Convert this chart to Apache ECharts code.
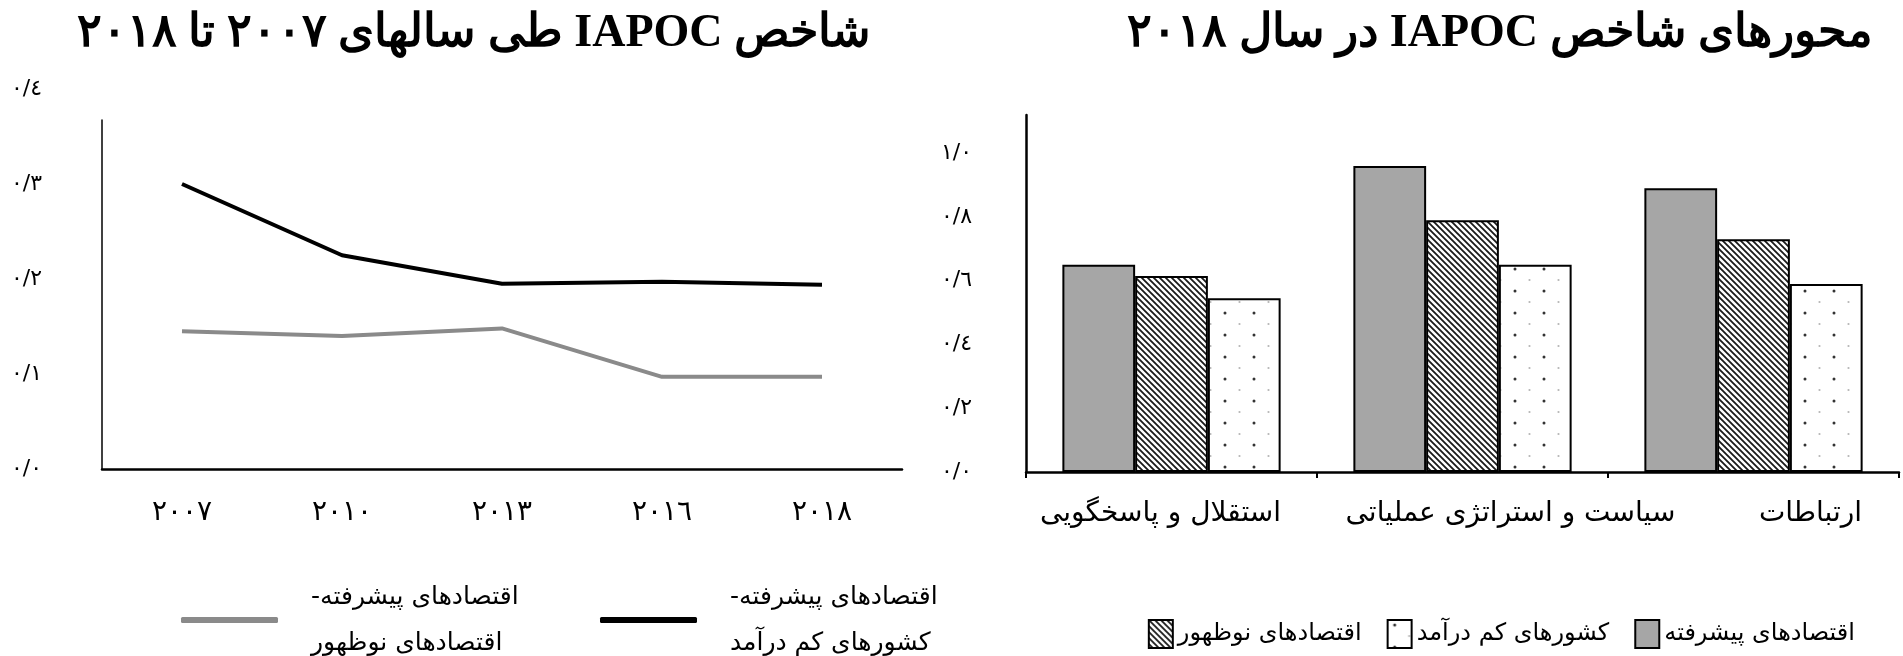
<!DOCTYPE html>
<html dir="rtl">
<head>
<meta charset="utf-8">
<script src="https://cdn.jsdelivr.net/npm/echarts@6/dist/echarts.min.js"></script>
<style>
html,body{margin:0;padding:0;background:#fff;}
#chart{width:1903px;height:656px;direction:rtl;}
</style>
</head>
<body>
<div id="chart"></div>
<script>
// ---- data ----
const years = ['٢٠٠٧', '٢٠١٠', '٢٠١٣', '٢٠١٦', '٢٠١٨'];
const advVsLowIncome = [0.300, 0.225, 0.195, 0.197, 0.194];
const advVsEmerging = [0.145, 0.140, 0.148, 0.097, 0.097];
const leftTickLabels = ['٠/٠', '٠/١', '٠/٢', '٠/٣', '٠/٤'];

const pillars = ['استقلال و پاسخگویی', 'سیاست و استراتژی عملیاتی', 'ارتباطات'];
const advanced = [0.650, 0.960, 0.890];
const emerging = [0.615, 0.790, 0.730];
const lowIncome = [0.545, 0.650, 0.590];
const rightTickLabels = ['٠/٠', '٠/٢', '٠/٤', '٠/٦', '٠/٨', '١/٠'];

const titleLeft = 'شاخص IAPOC طی سالهای ٢٠٠٧ تا ٢٠١٨';
const titleRight = 'محورهای شاخص IAPOC در سال ٢٠١٨';
const nameLowIncomeLine = 'اقتصادهای پیشرفته- کشورهای کم درآمد';
const nameEmergingLine = 'اقتصادهای پیشرفته- اقتصادهای نوظهور';
const nameAdvanced = 'اقتصادهای پیشرفته';
const nameEmerging = 'اقتصادهای نوظهور';
const nameLowIncome = 'کشورهای کم درآمد';

// label placement tweaks (styling only, px)
const pillarLabelShift = [-11, 48, 57];

// ---- patterns ----
function hatchPattern() {
  const c = document.createElement('canvas');
  c.width = 6; c.height = 6;
  const g = c.getContext('2d');
  g.fillStyle = '#fff'; g.fillRect(0, 0, 6, 6);
  g.strokeStyle = '#1a1a1a'; g.lineWidth = 1.8;
  g.beginPath();
  g.moveTo(-1, -1); g.lineTo(7, 7);
  g.moveTo(-1, 5); g.lineTo(1, 7);
  g.moveTo(5, -1); g.lineTo(7, 1);
  g.stroke();
  return { image: c, repeat: 'repeat' };
}
function dotPattern() {
  const c = document.createElement('canvas');
  c.width = 29; c.height = 22;
  const g = c.getContext('2d');
  g.fillStyle = '#fff'; g.fillRect(0, 0, 29, 22);
  g.fillStyle = '#333';
  g.beginPath(); g.arc(7, 5, 1.5, 0, Math.PI * 2); g.fill();
  g.fillStyle = '#b5b5b5';
  g.beginPath(); g.arc(21.5, 16, 1.1, 0, Math.PI * 2); g.fill();
  return { image: c, repeat: 'repeat' };
}

const FONT = 'DejaVu Sans';
const pillarData = pillars.map((p, i) => {
  const s = pillarLabelShift[i];
  return { value: p, textStyle: { padding: s >= 0 ? [0, 0, 0, 2 * s] : [0, -2 * s, 0, 0] } };
});

const chart = echarts.init(document.getElementById('chart'), null, { renderer: 'canvas' });

const titleStyle = { fontFamily: 'Liberation Serif', fontWeight: 'bold', fontSize: 46, color: '#000' };
const lineLegend = {
  orient: 'horizontal', icon: 'roundRect', itemWidth: 97, itemHeight: 6,
  formatter: n => n.replace('- ', '-\n'),
  textStyle: { fontFamily: FONT, fontSize: 25, color: '#000', lineHeight: 46, padding: [0, 0, 0, 28] }
};

chart.setOption({
  animation: false,
  backgroundColor: '#fff',
  title: [
    { text: titleLeft, left: 866, top: 6, textAlign: 'right', textStyle: titleStyle },
    { text: titleRight, left: 1868, top: 6, textAlign: 'right', textStyle: titleStyle }
  ],
  legend: [
    Object.assign({ data: [nameEmergingLine], left: 176, top: 569 }, lineLegend),
    Object.assign({ data: [nameLowIncomeLine], left: 595, top: 569 }, lineLegend),
    { data: [nameEmerging, nameLowIncome, nameAdvanced], right: 43, top: 614,
      icon: 'rect', itemWidth: 24, itemHeight: 28, itemGap: 25,
      textStyle: { fontFamily: FONT, fontSize: 24, color: '#000' } }
  ],
  grid: [
    { left: 102, width: 800, top: 89, bottom: 187 },
    { left: 1026, right: 4, top: 115, bottom: 184 },
    { left: 102, width: 800, top: 120, bottom: 187 }
  ],
  xAxis: [
    { gridIndex: 0, type: 'category', data: years, boundaryGap: true,
      axisLine: { lineStyle: { color: '#000', width: 2.5 } },
      axisTick: { show: false },
      axisLabel: { fontFamily: FONT, fontSize: 28, color: '#000', margin: 30 } },
    { gridIndex: 1, type: 'category', data: pillarData, boundaryGap: true,
      axisLine: { lineStyle: { color: '#000', width: 2.5 } },
      axisTick: { show: true, length: 6, lineStyle: { color: '#000', width: 2 } },
      axisLabel: { fontFamily: FONT, fontSize: 28, color: '#000', margin: 28, interval: 0 } },
    { gridIndex: 2, type: 'category', data: years, show: false }
  ],
  yAxis: [
    { gridIndex: 0, type: 'value', min: 0, max: 0.4, interval: 0.1,
      axisLine: { show: false }, axisTick: { show: false }, splitLine: { show: false },
      axisLabel: { fontFamily: FONT, fontSize: 22, color: '#000', margin: 60,
        formatter: v => leftTickLabels[Math.round(v / 0.1)] || '' } },
    { gridIndex: 1, type: 'value', min: 0, max: 1.12, interval: 0.2,
      axisLine: { show: true, lineStyle: { color: '#000', width: 2.5 } },
      axisTick: { show: false }, splitLine: { show: false },
      axisLabel: { fontFamily: FONT, fontSize: 22, color: '#000', margin: 54, showMaxLabel: false,
        formatter: v => rightTickLabels[Math.round(v / 0.2)] || '' } },
    { gridIndex: 2, type: 'value', min: 0, max: 1,
      axisLine: { show: true, lineStyle: { color: '#000', width: 1.5 } },
      axisTick: { show: false }, splitLine: { show: false }, axisLabel: { show: false } }
  ],
  series: [
    { name: nameLowIncomeLine, type: 'line', xAxisIndex: 0, yAxisIndex: 0, data: advVsLowIncome,
      showSymbol: false, symbol: 'none', lineStyle: { color: '#000', width: 4 }, itemStyle: { color: '#000' } },
    { name: nameEmergingLine, type: 'line', xAxisIndex: 0, yAxisIndex: 0, data: advVsEmerging,
      showSymbol: false, symbol: 'none', lineStyle: { color: '#8a8a8a', width: 4 }, itemStyle: { color: '#8a8a8a' } },
    { name: nameAdvanced, type: 'bar', xAxisIndex: 1, yAxisIndex: 1, data: advanced,
      barGap: '0%', barCategoryGap: '25%',
      itemStyle: { color: '#a6a6a6', borderColor: '#000', borderWidth: 2 } },
    { name: nameEmerging, type: 'bar', xAxisIndex: 1, yAxisIndex: 1, data: emerging,
      barGap: '0%', barCategoryGap: '25%',
      itemStyle: { color: hatchPattern(), borderColor: '#000', borderWidth: 2 } },
    { name: nameLowIncome, type: 'bar', xAxisIndex: 1, yAxisIndex: 1, data: lowIncome,
      barGap: '0%', barCategoryGap: '25%',
      itemStyle: { color: dotPattern(), borderColor: '#000', borderWidth: 2 } }
  ]
});
</script>
</body>
</html>
